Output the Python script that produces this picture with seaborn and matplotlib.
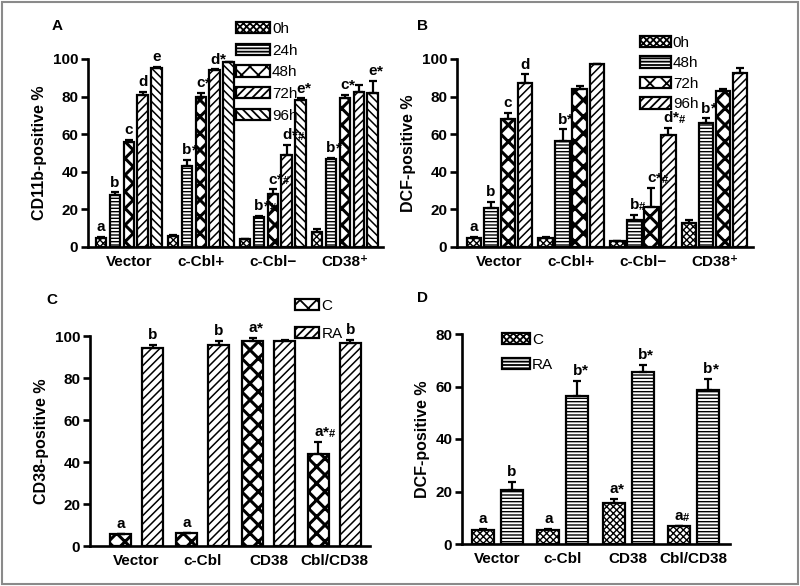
import numpy as np
import pandas as pd
import seaborn as sns
import matplotlib.pyplot as plt
from matplotlib.patches import Patch, Rectangle

# ---- data ----
groups_ab = ["Vector", "c-Cbl+", "c-Cbl\u2212", "CD38\u207a"]
groups_cd = ["Vector", "c-Cbl", "CD38", "Cbl/CD38"]

# A: CD11b-positive %
times_a = ["0h", "24h", "48h", "72h", "96h"]
a_mean = [[5, 6, 4, 8],
          [27.5, 43, 15.8, 46.8],
          [56, 79.8, 28, 79.4],
          [80.8, 94, 49.2, 82.5],
          [95, 98.2, 78.2, 81.8]]
a_err = [[0.5, 0.5, 0.4, 1.6],
         [1.5, 3.2, 0.8, 0.4],
         [0.8, 2.2, 2.6, 1.4],
         [1.7, 0.5, 5, 3.6],
         [0.6, 0.3, 0.8, 6.5]]
a_marks = [["a", "", "", ""],
           ["b", "b*", "b*#", "b*"],
           ["c", "c*", "c*#", "c*"],
           ["d", "d*", "d*#", ""],
           ["e", "", "e*", "e*"]]

# B: DCF-positive %
times_b = ["0h", "48h", "72h", "96h"]
b_mean = [[5, 5, 3, 12.8],
          [20.8, 56.4, 14.3, 65.8],
          [68, 84.3, 21.5, 83],
          [87, 97.2, 59.6, 92.7]]
b_err = [[0.5, 0.5, 0.4, 1.5],
         [3, 6.2, 2.8, 2.6],
         [3.5, 1.3, 10, 0.9],
         [4.8, 0.2, 3.9, 2.3]]
b_marks = [["a", "", "", ""],
           ["b", "b*", "b#", "b*"],
           ["c", "", "c*#", ""],
           ["d", "", "d*#", ""]]

# C: CD38-positive %
treat = ["C", "RA"]
c_mean = [[5.5, 6, 97.8, 44],
          [94.4, 95.5, 97.8, 96.8]]
c_err = [[0.4, 0.4, 1.2, 5.6],
         [1.5, 2.3, 0.5, 1.2]]
c_marks = [["a", "a", "a*", "a*#"],
           ["b", "b", "", "b"]]

# D: DCF-positive %
d_mean = [[5.5, 5.5, 15.5, 6.8],
          [20.6, 56.4, 65.6, 58.6]]
d_err = [[0.3, 0.3, 1.6, 0.2],
         [3.1, 5.8, 2.6, 4.2]]
d_marks = [["a", "a", "a*", "a#"],
           ["b", "b*", "b*", "b*"]]

# hatch pattern, hatch line width
small_chk = ("xxxxx", 1.0)
stripes = ("-----", 1.0)
big_chk = ("xx", 2.2)
diag = ("////", 1.1)
rdiag = ("\\\\\\\\", 1.1)
hatch_a = {"0h": small_chk, "24h": stripes, "48h": big_chk, "72h": diag, "96h": rdiag}
hatch_b = {"0h": small_chk, "48h": stripes, "72h": big_chk, "96h": diag}
hatch_c = {"C": big_chk, "RA": diag}
hatch_d = {"C": small_chk, "RA": stripes}

sns.set_style("ticks")
plt.rcParams['font.family'] = ['Liberation Sans', 'DejaVu Sans']
plt.rcParams['font.weight'] = 'bold'
plt.rcParams['axes.labelweight'] = 'bold'
for k in ['text.color', 'axes.labelcolor', 'xtick.color', 'ytick.color', 'axes.edgecolor']:
    plt.rcParams[k] = 'black'
plt.rcParams['hatch.linewidth'] = 1.3

LW = 1.6

fig = plt.figure(figsize=(8, 5.86), dpi=100)


def set_hatch(p, spec):
    p.set_hatch(spec[0])
    if hasattr(p, "set_hatch_linewidth"):
        p.set_hatch_linewidth(spec[1])


def mark(ax, label, x, y):
    # letter centred on the bar, * and # trail to the right
    prev = ax.annotate(label[0], (x, y), xytext=(0, 2), textcoords="offset points",
                       ha="center", va="bottom", fontsize=11, fontweight="bold",
                       annotation_clip=False)
    if "*" in label:
        prev = ax.annotate("*", xy=(1, 0), xycoords=prev, ha="left", va="bottom",
                           fontsize=11, fontweight="bold")
    if "#" in label:
        ax.annotate("#", xy=(1, 0.02), xycoords=prev, ha="left", va="bottom",
                    fontsize=8, fontweight="bold")


def panel(rect, groups, hues, means, errs, marks, hatches, width, gap,
          xlim, ylim, yticks, ylabel, leg_xy, leg_space, hlen):
    ax = fig.add_axes(rect)
    rows = []
    for h, vals in zip(hues, means):
        for g, v in zip(groups, vals):
            rows.append({"group": g, "hue": h, "value": v})
    df = pd.DataFrame(rows)
    sns.barplot(data=df, x="group", y="value", hue="hue", order=groups,
                hue_order=hues, palette={h: "white" for h in hues},
                saturation=1, edgecolor="black", linewidth=LW,
                width=width, gap=gap, errorbar=None, legend=False, ax=ax)
    bar_sets = list(ax.containers)
    for i, cont in enumerate(bar_sets):
        for j, bar in enumerate(cont.patches):
            set_hatch(bar, hatches[hues[i]])
            x = bar.get_x() + bar.get_width() / 2
            top = bar.get_height()
            e = errs[i][j]
            ax.errorbar(x, top, yerr=[[0], [e]], color="black", lw=LW,
                        capsize=3.2, capthick=LW, zorder=1)
            if marks[i][j]:
                mark(ax, marks[i][j], x, top + e)
    ax.set_xlim(*xlim)
    ax.set_ylim(*ylim)
    ax.set_yticks(yticks)
    ax.set_xlabel("")
    ax.set_ylabel(ylabel, fontsize=11.5, labelpad=4)
    sns.despine(ax=ax)
    for s in ["left", "bottom"]:
        ax.spines[s].set_linewidth(1.9)
    ax.tick_params(axis="y", width=1.9, length=5, labelsize=11, pad=2)
    ax.tick_params(axis="x", length=0, labelsize=11, pad=6)
    for lab in ax.get_xticklabels() + ax.get_yticklabels():
        lab.set_fontweight("bold")
    handles = []
    for h in hues:
        p = Patch(facecolor="white", edgecolor="black", linewidth=LW, label=h)
        set_hatch(p, hatches[h])
        handles.append(p)
    ax.legend(handles=handles, loc="upper left",
              bbox_to_anchor=(leg_xy[0] / 800, 1 - leg_xy[1] / 586),
              bbox_transform=fig.transFigure, frameon=False,
              prop={"size": 11, "weight": "normal"}, handlelength=hlen,
              handleheight=0.75, handletextpad=0.15, labelspacing=leg_space,
              borderpad=0, borderaxespad=0)
    return ax


panel([88 / 800, 1 - 247 / 586, 295 / 800, 188 / 586], groups_ab, times_a,
      a_mean, a_err, a_marks, hatch_a, 0.97, 0.22, (-0.569, 3.528),
      (0, 100), range(0, 101, 20), "CD11b-positive %", (236, 22), 0.5, 2.2)

panel([457 / 800, 1 - 247 / 586, 296 / 800, 188 / 586], groups_ab, times_b,
      b_mean, b_err, b_marks, hatch_b, 0.95, 0.15, (-0.593, 3.536),
      (0, 100), range(0, 101, 20), "DCF-positive %", (640, 36), 0.42, 2.0)

panel([90 / 800, 1 - 546 / 586, 280 / 800, 210 / 586], groups_cd, treat,
      c_mean, c_err, c_marks, hatch_c, 0.97, 0.34, (-0.705, 3.538),
      (0, 100), range(0, 101, 20), "CD38-positive %", (295, 299), 0.9, 1.6)

panel([462 / 800, 1 - 544 / 586, 268 / 800, 210 / 586], groups_cd, treat,
      d_mean, d_err, d_marks, hatch_d, 0.89, 0.24, (-0.544, 3.559),
      (0, 80), range(0, 81, 20), "DCF-positive %", (502, 333), 0.72, 1.8)

for lx, ly, s in [(57, 26, "A"), (422, 26, "B"), (52, 300, "C"), (422, 298, "D")]:
    fig.text(lx / 800, 1 - ly / 586, s, fontsize=11, fontweight="bold",
             ha="center", va="center")

fig.add_artist(Rectangle((0.003, 0.004), 0.994, 0.992, transform=fig.transFigure,
                         fill=False, edgecolor="#8a8a8a", linewidth=1.5))

fig.savefig("out.png", dpi=100)
